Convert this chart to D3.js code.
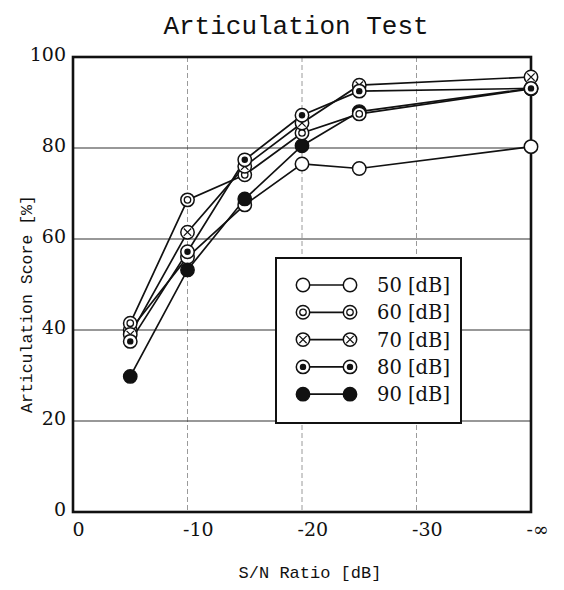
<!DOCTYPE html>
<html>
<head>
<meta charset="utf-8">
<script src="https://cdn.jsdelivr.net/npm/d3@7"></script>
<style>
  body { margin: 0; background: #fff; }
  svg { display: block; }
</style>
</head>
<body>
<svg></svg>
<script>
let snPositions = [-5, -10, -15, -20, -25, -40]
let xTickValues = [0, -10, -20, -30, -40]
let xTickLabels = ['0', '-10', '-20', '-30', '-\u221e']
let yTickValues = [0, 20, 40, 60, 80, 100]

let levelNames = ['50 [dB]', '60 [dB]', '70 [dB]', '80 [dB]', '90 [dB]']
let markerKinds = ['open', 'double', 'cross', 'dot', 'filled']

let score50 = [40, 56, 67.5, 76.5, 75.5, 80.3]
let score60 = [41.5, 68.6, 74.1, 83.3, 87.5, 93]
let score70 = [39, 61.5, 76, 85.5, 93.8, 95.6]
let score80 = [37.5, 57.2, 77.4, 87.2, 92.5, 93.1]
let score90 = [29.8, 53.2, 68.8, 80.5, 88, 93.1]

let series = [score50, score60, score70, score80, score90]

let width = 564
let height = 590
let plotLeft = 73
let plotRight = 531
let plotTop = 57
let plotBottom = 512

let svg = d3.select('svg')
  .attr('width', width)
  .attr('height', height)

let xScale = d3.scaleLinear()
  .domain([0, -40])
  .range([plotLeft, plotRight])

let yScale = d3.scaleLinear()
  .domain([0, 100])
  .range([plotBottom, plotTop])

let serif = 'DejaVu Serif'
let mono = 'Liberation Mono'

// grid
svg.append('g')
  .selectAll('line')
  .data([-10, -20, -30])
  .enter()
  .append('line')
  .attr('x1', (d) => xScale(d))
  .attr('x2', (d) => xScale(d))
  .attr('y1', plotTop)
  .attr('y2', plotBottom)
  .attr('stroke', '#9a9a9a')
  .attr('stroke-width', 1)
  .attr('stroke-dasharray', '5,3')

svg.append('g')
  .selectAll('line')
  .data([20, 40, 60, 80])
  .enter()
  .append('line')
  .attr('x1', plotLeft)
  .attr('x2', plotRight)
  .attr('y1', (d) => yScale(d))
  .attr('y2', (d) => yScale(d))
  .attr('stroke', '#333')
  .attr('stroke-width', 1.2)

// axes
let xAxis = d3.axisBottom(xScale)
  .tickValues(xTickValues)
  .tickFormat((d, i) => xTickLabels[i])
  .tickSize(0)
  .tickPadding(11)

let yAxis = d3.axisLeft(yScale)
  .tickValues(yTickValues)
  .tickSize(0)
  .tickPadding(7)

let gx = svg.append('g')
  .attr('transform', 'translate(0, ' + plotBottom + ')')
  .call(xAxis)
gx.select('.domain').remove()
gx.selectAll('text')
  .attr('font-family', serif)
  .attr('font-size', 19)
  .attr('fill', '#111')
  .attr('text-anchor', 'start')
  .attr('x', (d) => d == 0 ? -1 : -5)

let gy = svg.append('g')
  .attr('transform', 'translate(' + plotLeft + ', 0)')
  .call(yAxis)
gy.select('.domain').remove()
gy.selectAll('text')
  .attr('font-family', serif)
  .attr('font-size', 19)
  .attr('fill', '#111')
  .attr('dy', '0.2em')

// frame
svg.append('rect')
  .attr('x', plotLeft)
  .attr('y', plotTop)
  .attr('width', plotRight - plotLeft)
  .attr('height', plotBottom - plotTop)
  .attr('fill', 'none')
  .attr('stroke', '#111')
  .attr('stroke-width', 2.6)

// marker drawing
let drawMarker = (g, kind, r) => {
  if (kind == 'filled') {
    g.append('circle').attr('r', r).attr('fill', '#111').attr('stroke', '#111').attr('stroke-width', 1.4)
    return
  }
  g.append('circle').attr('r', r).attr('fill', '#fff').attr('stroke', '#111').attr('stroke-width', 1.5)
  if (kind == 'double') {
    g.append('circle').attr('r', r * 0.48).attr('fill', '#fff').attr('stroke', '#111').attr('stroke-width', 1.3)
  }
  if (kind == 'dot') {
    g.append('circle').attr('r', r * 0.48).attr('fill', '#111')
  }
  if (kind == 'cross') {
    let k = r * 0.55
    g.append('path')
      .attr('d', 'M' + (-k) + ',' + (-k) + 'L' + k + ',' + k + 'M' + k + ',' + (-k) + 'L' + (-k) + ',' + k)
      .attr('stroke', '#111')
      .attr('stroke-width', 1.2)
  }
}

// lines
let line = d3.line()
  .x((d, i) => xScale(snPositions[i]))
  .y((d) => yScale(d))

svg.append('g')
  .selectAll('path')
  .data(series)
  .enter()
  .append('path')
  .attr('d', (d) => line(d))
  .attr('fill', 'none')
  .attr('stroke', '#111')
  .attr('stroke-width', 1.7)

// markers: 90 goes down early so the ringed markers sit on top of it
let drawOrder = [0, 4, 1, 2, 3]
drawOrder.forEach((s) => {
  series[s].forEach((v, i) => {
    let g = svg.append('g')
      .attr('transform', 'translate(' + xScale(snPositions[i]) + ',' + yScale(v) + ')')
    drawMarker(g, markerKinds[s], 6.7)
  })
})

// legend
let legend = svg.append('g')
legend.append('rect')
  .attr('x', 276)
  .attr('y', 258)
  .attr('width', 185)
  .attr('height', 165)
  .attr('fill', '#fff')
  .attr('stroke', '#111')
  .attr('stroke-width', 2)

levelNames.forEach((name, i) => {
  let y = 285 + i * 27.3
  legend.append('line')
    .attr('x1', 303).attr('x2', 350)
    .attr('y1', y).attr('y2', y)
    .attr('stroke', '#111')
    .attr('stroke-width', 1.7)
  drawMarker(legend.append('g').attr('transform', 'translate(303,' + y + ')'), markerKinds[i], 6.7)
  drawMarker(legend.append('g').attr('transform', 'translate(350,' + y + ')'), markerKinds[i], 6.7)
  legend.append('text')
    .attr('x', 377)
    .attr('y', y + 7)
    .attr('font-family', serif)
    .attr('font-size', 19.5)
    .attr('fill', '#111')
    .text(name)
})

// titles
svg.append('text')
  .attr('x', 296)
  .attr('y', 34)
  .attr('text-anchor', 'middle')
  .attr('font-family', mono)
  .attr('font-size', 26)
  .attr('fill', '#111')
  .text('Articulation Test')

svg.append('text')
  .attr('x', 310)
  .attr('y', 578)
  .attr('text-anchor', 'middle')
  .attr('font-family', mono)
  .attr('font-size', 17)
  .attr('fill', '#111')
  .text('S/N Ratio [dB]')

svg.append('text')
  .attr('transform', 'translate(32, 304) rotate(-90)')
  .attr('text-anchor', 'middle')
  .attr('font-family', mono)
  .attr('font-size', 16.5)
  .attr('fill', '#111')
  .text('Articulation Score [%]')
</script>
</body>
</html>
